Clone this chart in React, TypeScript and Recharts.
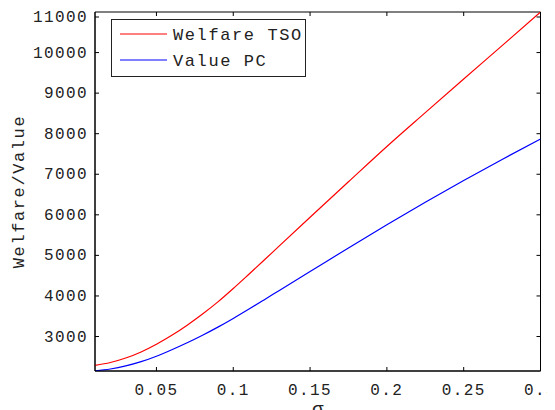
import { LineChart, Line, XAxis, YAxis, ReferenceArea } from 'recharts'

// sigma grid and the two curves
const sigma = [0.01, 0.02, 0.03, 0.04, 0.05, 0.06, 0.07, 0.08, 0.09, 0.1, 0.11, 0.12, 0.13, 0.15, 0.175, 0.2, 0.225, 0.25, 0.275, 0.3]
const welfareTSO = [2290, 2360, 2470, 2620, 2810, 3030, 3280, 3555, 3855, 4185, 4530, 4880, 5235, 5940, 6815, 7685, 8520, 9350, 10170, 11000]
const valuePC = [2155, 2200, 2275, 2380, 2515, 2673, 2845, 3031, 3231, 3445, 3670, 3902, 4137, 4602, 5184, 5754, 6309, 6846, 7366, 7870]

const xTicks = [0.05, 0.1, 0.15, 0.2, 0.25, 0.3]
const yTicks = [3000, 4000, 5000, 6000, 7000, 8000, 9000, 10000, 11000]
const xDomain = [0.01, 0.3]
const yDomain = [2150, 11000]

const data = sigma.map((s, i) => ({ sigma: s, tso: welfareTSO[i], pc: valuePC[i] }))

const W = 547
const H = 402
const LEFT = 87
const RIGHT = 532.5
const TOP = 4
const BOTTOM = 363
const TICK = 4
const FONT = "'Liberation Mono', 'DejaVu Sans Mono', monospace"

const XTick = ({ x, payload }: any) => (
  <g>
    <line x1={x} x2={x} y1={BOTTOM} y2={BOTTOM - TICK} stroke="#000" />
    <line x1={x} x2={x} y1={TOP} y2={TOP + TICK} stroke="#000" />
    <text x={x} y={BOTTOM + 24} textAnchor="middle" fontSize={16} letterSpacing={1.4} fill="#222" fontFamily={FONT}>
      {String(payload.value)}
    </text>
  </g>
)

const YTick = ({ y, payload }: any) => (
  <g>
    <line x1={LEFT} x2={LEFT + TICK} y1={y} y2={y} stroke="#000" />
    <line x1={RIGHT} x2={RIGHT - TICK} y1={y} y2={y} stroke="#000" />
    <text x={80} y={y} dy={5} textAnchor="end" fontSize={16} letterSpacing={1.4} fill="#222" fontFamily={FONT}>
      {String(payload.value)}
    </text>
  </g>
)

export default function App() {
  return (
    <div style={{ position: 'relative', width: W, height: H, fontFamily: FONT }}>
      <LineChart width={W} height={H} data={data} margin={{ top: TOP, right: W - RIGHT, left: 7, bottom: 0 }}>
        <XAxis
          dataKey="sigma"
          type="number"
          domain={xDomain}
          ticks={xTicks}
          allowDataOverflow
          height={39}
          tickSize={0}
          tickMargin={0}
          axisLine={{ stroke: '#000' }}
          tick={<XTick />}
          label={{
            content: () => (
              <text x={(LEFT + RIGHT) / 2} y={H + 5} textAnchor="middle" fontSize={19} fill="#222" fontFamily={FONT}>
                σ
              </text>
            ),
          }}
        />
        <YAxis
          type="number"
          domain={yDomain}
          ticks={yTicks}
          allowDataOverflow
          width={80}
          tickSize={0}
          tickMargin={0}
          axisLine={{ stroke: '#000' }}
          tick={<YTick />}
          label={{
            content: () => (
              <text
                x={0}
                y={0}
                transform={`translate(16, ${(TOP + BOTTOM) / 2}) rotate(-90)`}
                textAnchor="middle"
                fontSize={17}
                letterSpacing={1.6}
                fill="#222"
                fontFamily={FONT}
              >
                Welfare/Value
              </text>
            ),
          }}
        />
        <ReferenceArea x1={xDomain[0]} x2={xDomain[1]} y1={yDomain[0]} y2={yDomain[1]} fill="none" stroke="#000" strokeWidth={1} />
        <Line type="monotone" dataKey="tso" stroke="#ff0000" strokeWidth={1.2} dot={false} isAnimationActive={false} name="Welfare TSO" />
        <Line type="monotone" dataKey="pc" stroke="#0000ff" strokeWidth={1.2} dot={false} isAnimationActive={false} name="Value PC" />
      </LineChart>
      <svg width={195} height={58} style={{ position: 'absolute', left: 103, top: 11 }}>
        <rect x={0.5} y={0.5} width={194} height={57} fill="#fff" stroke="#222" />
        <line x1={9} x2={56} y1={15} y2={15} stroke="#ff0000" />
        <text x={62} y={21} fontSize={17} letterSpacing={1.6} fill="#222" fontFamily={FONT}>Welfare TSO</text>
        <line x1={9} x2={56} y1={41} y2={41} stroke="#0000ff" />
        <text x={62} y={47} fontSize={17} letterSpacing={1.6} fill="#222" fontFamily={FONT}>Value PC</text>
      </svg>
    </div>
  )
}
